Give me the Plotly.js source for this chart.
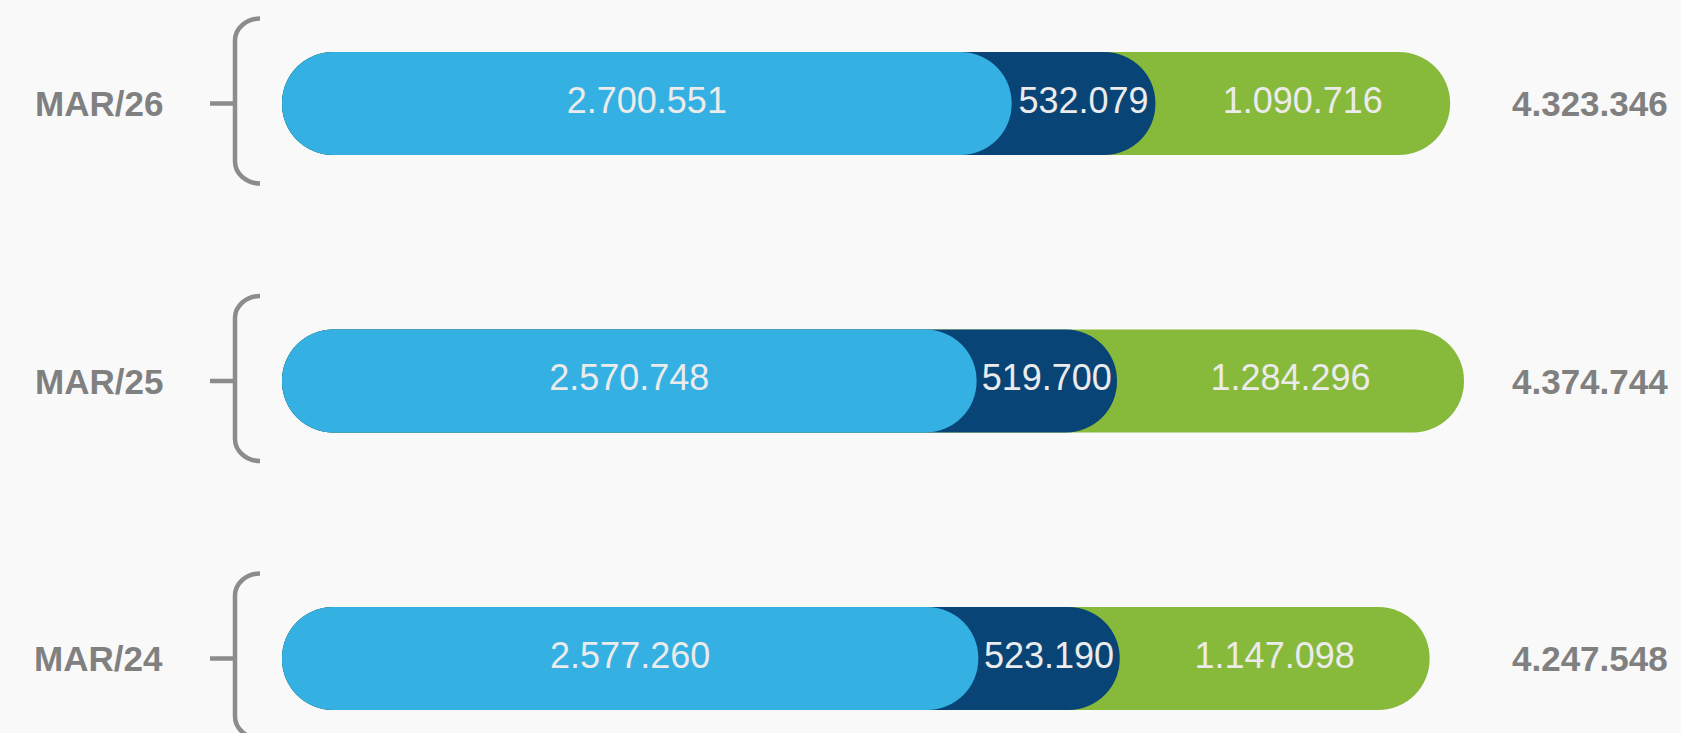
<!DOCTYPE html>
<html>
<head>
<meta charset="utf-8">
<script src="https://cdn.plot.ly/plotly-3.0.1.min.js"></script>
<style>
  html, body { margin: 0; padding: 0; background: #f9f9f9; }
  #chart { width: 1681px; height: 733px; }
</style>
</head>
<body>
<div id="chart"></div>
<script>
// ---- data ----
const categories = ['MAR/26', 'MAR/25', 'MAR/24'];
const seriesBlue  = [2700551, 2570748, 2577260];
const seriesNavy  = [532079, 519700, 523190];
const seriesGreen = [1090716, 1284296, 1147098];
const totals      = [4323346, 4374744, 4247548];

// ---- styling / geometry ----
const W = 1681, H = 733;
const C_BLUE = '#34b0e3', C_NAVY = '#084475', C_GREEN = '#87b93b';
const C_GREY = '#808080', C_LABEL = '#ebebeb', C_BRACKET = '#8c8c8c';
const FONT = 'Liberation Sans, Arial, Helvetica, sans-serif';
const barPx = 103;                 // bar thickness in pixels
const rowTopPx = 103.5, rowStepPx = 277.5;   // vertical placement
const zeroPx = 282, maxEndPx = 1464;         // horizontal placement

function fmt(v) { return String(v).replace(/\B(?=(\d{3})+(?!\d))/g, '.'); }

// axis ranges so that data map onto the wanted pixel layout
const n = categories.length;
const yTop = (n - 1) + rowTopPx / rowStepPx;
const yBot = yTop - H / rowStepPx;
const maxTotal = Math.max(...totals);
const pxPerUnit = (maxEndPx - zeroPx) / maxTotal;
const xMin = -zeroPx / pxPerUnit;
const xMax = (W - zeroPx) / pxPerUnit;
const barWidth = barPx / rowStepPx;

const cumNavy = seriesBlue.map((b, i) => b + seriesNavy[i]);
const cumGreen = cumNavy.map((v, i) => v + seriesGreen[i]);

const midBlue = seriesBlue.map(b => b / 2);
const midNavy = seriesBlue.map((b, i) => b + seriesNavy[i] / 2);
const midGreen = cumNavy.map((c, i) => c + seriesGreen[i] / 2);

function barTrace(x, color) {
  return {
    type: 'bar', orientation: 'h', y: categories, x: x, base: 0,
    width: barWidth, marker: { color: color, line: { width: 0 }, cornerradius: '50%' },
    hoverinfo: 'skip', showlegend: false
  };
}
function textTrace(x, vals) {
  return {
    type: 'scatter', mode: 'text', y: categories, x: x,
    text: vals.map(fmt), textposition: 'middle center',
    textfont: { family: FONT, size: 36, color: C_LABEL },
    hoverinfo: 'skip', showlegend: false, cliponaxis: false
  };
}

const traces = [
  barTrace(cumGreen, C_GREEN),
  barTrace(cumNavy, C_NAVY),
  barTrace(seriesBlue, C_BLUE),
  textTrace(midBlue, seriesBlue),
  textTrace(midNavy, seriesNavy),
  textTrace(midGreen, seriesGreen)
];

// annotations: category labels (left) and totals (right)
const annotations = [];
categories.forEach((c, i) => {
  annotations.push({
    xref: 'paper', yref: 'y', x: 164 / W, y: c, xanchor: 'right', yanchor: 'middle',
    text: '<b>' + c + '</b>', showarrow: false, borderpad: 0,
    font: { family: FONT, size: 35, color: C_GREY }
  });
  annotations.push({
    xref: 'paper', yref: 'y', x: 1669 / W, y: c, xanchor: 'right', yanchor: 'middle',
    text: '<b>' + fmt(totals[i]) + '</b>', showarrow: false, borderpad: 0,
    font: { family: FONT, size: 35, color: C_GREY }
  });
});

// bracket decorations, in paper coordinates
function px(p) { return (p / W).toFixed(5); }
function py(p) { return (1 - p / H).toFixed(5); }
const shapes = categories.map((c, i) => {
  const cy = rowTopPx + i * rowStepPx;
  const top = cy - 85, bot = cy + 80, xv = 235, xe = 260, xt = 210;
  const rx = xe - xv, ry = 22, k = 0.552;
  const path =
    'M' + px(xt) + ',' + py(cy) + ' L' + px(xv) + ',' + py(cy) +
    ' M' + px(xe) + ',' + py(top) +
    ' C' + px(xe - rx * k) + ',' + py(top) + ' ' + px(xv) + ',' + py(top + ry * (1 - k)) + ' ' + px(xv) + ',' + py(top + ry) +
    ' L' + px(xv) + ',' + py(bot - ry) +
    ' C' + px(xv) + ',' + py(bot - ry * (1 - k)) + ' ' + px(xe - rx * k) + ',' + py(bot) + ' ' + px(xe) + ',' + py(bot);
  return {
    type: 'path', xref: 'paper', yref: 'paper', path: path,
    line: { color: C_BRACKET, width: 4.5 }, layer: 'above'
  };
});

const layout = {
  width: W, height: H,
  margin: { l: 0, r: 0, t: 0, b: 0, pad: 0 },
  paper_bgcolor: '#f9f9f9', plot_bgcolor: 'rgba(0,0,0,0)',
  barmode: 'overlay',
  showlegend: false,
  hovermode: false,
  xaxis: { range: [xMin, xMax], visible: false, fixedrange: true },
  yaxis: {
    type: 'category', categoryorder: 'array', categoryarray: categories.slice().reverse(),
    range: [yBot, yTop], visible: false, fixedrange: true
  },
  annotations: annotations,
  shapes: shapes
};

Plotly.newPlot('chart', traces, layout, { displayModeBar: false, staticPlot: true });
</script>
</body>
</html>
